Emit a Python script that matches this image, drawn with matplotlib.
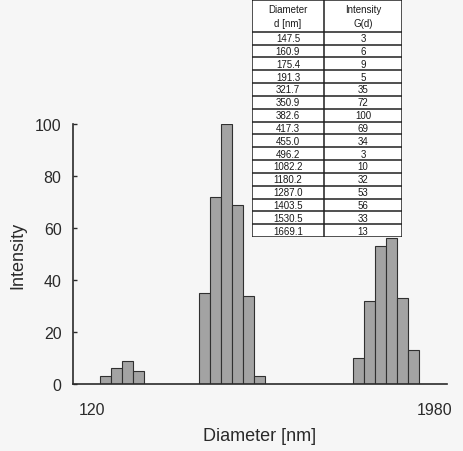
import numpy as np
import matplotlib.pyplot as plt
from matplotlib.transforms import ScaledTranslation

# Particle size distribution (diameter in nm, relative intensity)
diameters = [147.5, 160.9, 175.4, 191.3, 321.7, 350.9, 382.6, 417.3, 455.0, 496.2,
             1082.2, 1180.2, 1287.0, 1403.5, 1530.5, 1669.1]
diameter_labels = ['147.5', '160.9', '175.4', '191.3', '321.7', '350.9', '382.6', '417.3',
                   '455.0', '496.2', '1082.2', '1180.2', '1287.0', '1403.5', '1530.5', '1669.1']
intensities = [3, 6, 9, 5, 35, 72, 100, 69, 34, 3, 10, 32, 53, 56, 33, 13]
x_ticks = [120, 1980]
y_ticks = [0, 20, 40, 60, 80, 100]

plt.rcParams['font.family'] = ['Liberation Sans', 'DejaVu Sans']
bg = '#f6f6f6'
ink = '#2a2a2a'

fig = plt.figure(figsize=(4.64, 4.52), dpi=100, facecolor=bg)
ax = fig.add_axes([0.1567, 0.1482, 0.8067, 0.5753], facecolor=bg)

# bars are contiguous on the log axis: each spans d/sqrt(r) .. d*sqrt(r)
step = 1.09
d = np.array(diameters)
left = d / np.sqrt(step)
width = d * np.sqrt(step) - left
ax.bar(left, intensities, width=width, align='edge',
       color='#a3a3a3', edgecolor='#303030', linewidth=0.8, zorder=2)

ax.set_xscale('log')
ax.set_xlim(113.9, 2179)
ax.set_ylim(0, 100)
ax.set_xticks(x_ticks)
ax.set_xticklabels([str(t) for t in x_ticks])
ax.xaxis.set_minor_locator(plt.NullLocator())
ax.set_yticks(y_ticks)

for s in ['top', 'right']:
    ax.spines[s].set_visible(False)
for s in ['left', 'bottom']:
    ax.spines[s].set_color(ink)
    ax.spines[s].set_linewidth(1.2)

ax.tick_params(axis='y', direction='in', length=3, width=1, color=ink,
               labelsize=11.5, labelcolor=ink, pad=8)
ax.tick_params(axis='x', length=0, labelsize=11.5, labelcolor=ink, pad=13)
# nudge the lower-bound label right a little
lbl = ax.get_xticklabels()[0]
lbl.set_transform(lbl.get_transform() + ScaledTranslation(9 / 72, 0, fig.dpi_scale_trans))

ax.set_xlabel('Diameter [nm]', fontsize=13, color=ink, labelpad=7)
ax.set_ylabel('Intensity', fontsize=13, color=ink)
ax.yaxis.set_label_coords(-0.125, 0.5)

# data table in the upper right corner
tab = fig.add_axes([252 / 464, 1 - 238 / 452, 150 / 464, 237 / 452])
tab.set_xlim(0, 150)
tab.set_ylim(237, 0)
tab.axis('off')
tab.add_patch(plt.Rectangle((0, 0), 150, 237, facecolor='white', edgecolor='none'))

head_h = 31.7
row_h = (237 - head_h) / len(diameters)
col_split = 72
line_kw = dict(color='#202020', linewidth=1.1)
tab.plot([0, 150, 150, 0, 0], [0, 0, 237, 237, 0], **line_kw)
tab.plot([col_split, col_split], [0, 237], **line_kw)
for i in range(len(diameters)):
    y = head_h + i * row_h
    tab.plot([0, 150], [y, y], **line_kw)

txt_kw = dict(ha='center', va='center', fontsize=7, color='#1a1a1a')
tab.text(col_split / 2, head_h / 2, 'Diameter\nd [nm]', linespacing=1.45, **txt_kw)
tab.text((col_split + 150) / 2, head_h / 2, 'Intensity\nG(d)', linespacing=1.45, **txt_kw)
for i, (dl, g) in enumerate(zip(diameter_labels, intensities)):
    y = head_h + (i + 0.5) * row_h
    tab.text(col_split / 2, y, dl, **txt_kw)
    tab.text((col_split + 150) / 2, y, str(g), **txt_kw)

fig.savefig('out.png', dpi=100, facecolor=bg)
